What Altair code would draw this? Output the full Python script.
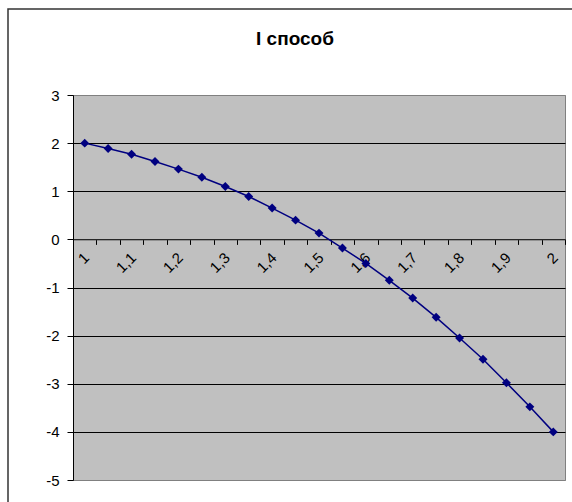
import altair as alt
import pandas as pd

# ---- data ----
x_vals = [1.0, 1.05, 1.1, 1.15, 1.2, 1.25, 1.3, 1.35, 1.4, 1.45, 1.5,
          1.55, 1.6, 1.65, 1.7, 1.75, 1.8, 1.85, 1.9, 1.95, 2.0]
y_vals = [2.0, 1.89, 1.77, 1.62, 1.46, 1.29, 1.10, 0.89, 0.65, 0.40, 0.13,
          -0.18, -0.50, -0.85, -1.22, -1.62, -2.05, -2.49, -2.98, -3.48, -4.0]
label_x = [1.0, 1.1, 1.2, 1.3, 1.4, 1.5, 1.6, 1.7, 1.8, 1.9, 2.0]
label_text = ["1", "1,1", "1,2", "1,3", "1,4", "1,5", "1,6", "1,7", "1,8", "1,9", "2"]
y_ticks = [3, 2, 1, 0, -1, -2, -3, -4, -5]
title_text = "I способ"

W, H = 492, 385
step = x_vals[1] - x_vals[0]
bounds = [round(x - step / 2, 4) for x in x_vals] + [round(x_vals[-1] + step / 2, 4)]
x_domain = [bounds[0], bounds[-1]]
y_domain = [min(y_ticks), max(y_ticks)]
# pixel distance of the zero line from the bottom of the plot
zero_from_bottom = H * (0 - min(y_ticks)) / (max(y_ticks) - min(y_ticks))

df = pd.DataFrame({"x": x_vals, "y": y_vals})
lab = pd.DataFrame({"x": label_x, "y": [0] * len(label_x), "t": label_text})

grid_color = {"condition": {"test": "datum.value === 3 || datum.value === -5", "value": "#808080"},
              "value": "#000000"}

x_enc = alt.X("x:Q", scale=alt.Scale(domain=x_domain, nice=False, zero=False),
              axis=alt.Axis(values=bounds, labels=False, tickSize=5, tickColor="black",
                            domainColor="#404040", grid=False, title=None,
                            offset=-zero_from_bottom))
y_enc = alt.Y("y:Q", scale=alt.Scale(domain=y_domain, nice=False, zero=False),
              axis=alt.Axis(values=y_ticks, grid=True, gridColor=grid_color, gridWidth=1,
                            tickSize=6, tickColor="black", domainColor="black",
                            labelFontSize=15, labelFont="Liberation Sans", labelColor="black",
                            labelPadding=8, title=None, labelExpr="'' + datum.value"))

frame = alt.Chart(alt.Data(values=[{}])).mark_rect(
    fillOpacity=0, stroke="#333333", strokeWidth=1.5
).encode(x=alt.value(-65), x2=alt.value(W + 40), y=alt.value(-86), y2=alt.value(H + 50))

labels = alt.Chart(lab).mark_text(
    angle=315, align="right", baseline="middle", fontSize=15, font="Liberation Sans",
    color="black", xOffset=2, yOffset=16
).encode(x=x_enc, y=y_enc, text="t:N")

line = alt.Chart(df).mark_line(color="#000080", strokeWidth=1.5).encode(x=x_enc, y=y_enc)
points = alt.Chart(df).mark_point(shape="diamond", filled=True, size=80, color="#000080",
                                  opacity=1).encode(x=x_enc, y=y_enc)

chart = alt.layer(frame, labels, line, points).properties(
    width=W, height=H,
    autosize="none",
    padding={"left": 73, "top": 95, "right": 7, "bottom": 22},
    title=alt.Title(title_text, fontSize=19, fontWeight="bold", font="Liberation Sans",
                    color="black", anchor="middle", dx=-24, offset=-41),
).configure_view(fill="#C0C0C0", stroke="#808080", strokeWidth=1)

chart.save("out.html", embed_options={"renderer": "svg", "actions": False})
